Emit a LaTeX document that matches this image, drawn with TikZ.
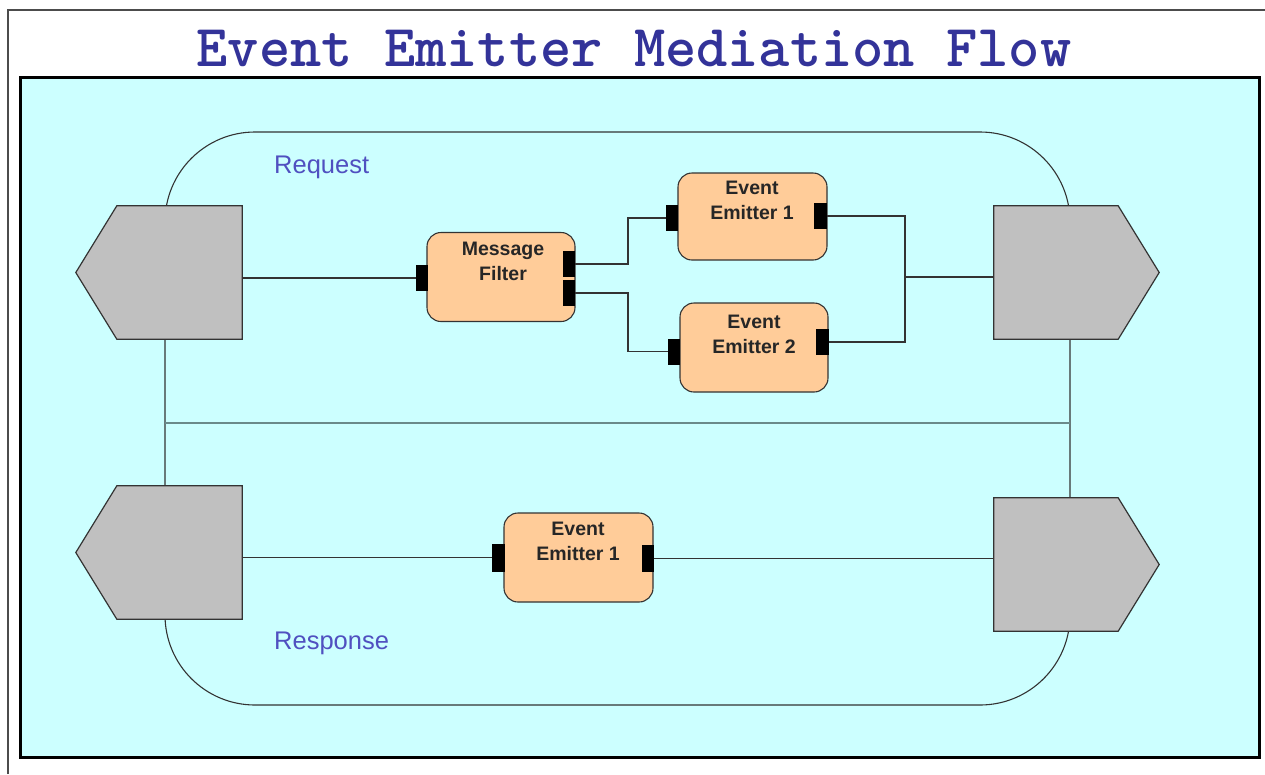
\documentclass[tikz,border=0pt]{standalone}
\usepackage{fontspec}
\setmainfont{Liberation Sans}
\newfontfamily\titlefont{lmmonolt10-bold.otf}
\usetikzlibrary{calc}
\definecolor{bgcyan}{HTML}{CCFFFF}
\definecolor{peach}{HTML}{FFCC99}
\definecolor{pgray}{HTML}{C0C0C0}
\definecolor{titleblue}{HTML}{333399}
\definecolor{lblblue}{HTML}{5050C0}
\definecolor{edge}{HTML}{333333}
\definecolor{divider}{HTML}{6A8A8A}
\tikzset{
  pent/.style={inner sep=0pt, minimum width=125pt, minimum height=133pt},
  pentshape/.style={fill=pgray, draw=edge, line width=1.2pt, line join=miter},
  proc/.style={draw=edge, fill=peach, rounded corners=14pt, line width=1.1pt, inner sep=0pt, minimum width=148pt, minimum height=89pt},
  port/.style={fill=black, draw=none, inner sep=0pt, minimum width=12pt, minimum height=26pt},
  boxtext/.style={align=center, font=\fontsize{19.5}{25}\selectfont\bfseries, text=black!85},
  flowlbl/.style={anchor=west, font=\fontsize{25.5}{28}\selectfont, text=lblblue, inner sep=0pt},
  wire/.style={draw=edge, line width=1.4pt},
}
\begin{document}
\begin{tikzpicture}[x=1pt, y=-1pt]
\useasboundingbox (0,0) rectangle (1265,774);
% outer frame
\draw[draw=black!70, line width=1.6pt] (8,774) -- (8,10) -- (1265,10);
% title
\node[font=\fontsize{59.5}{62}\selectfont\titlefont, text=titleblue, inner sep=0pt] (title) at (634,48) {Event Emitter Mediation Flow};
% main panel
\draw[line width=3pt, fill=bgcyan] (20,77) rectangle (1259,757);
% container
\draw[draw=edge, line width=1.1pt] (165,132) [rounded corners=90pt] -- (1070,132) -- (1070,705) -- (165,705) -- cycle;
\draw[divider, line width=1.2pt] (165,423) -- (1070,423);

% pentagon nodes (rectangular parts)
\node[pent] (reqIn)  at (179.5,272.5) {};
\node[pent] (resIn)  at (179.5,552.5) {};
\node[pent, minimum width=124pt] (reqOut) at (1056,272.5) {};
\node[pent, minimum width=124pt] (resOut) at (1056,564.5) {};
\draw[pentshape] (reqIn.north west) -- (reqIn.north east) -- (reqIn.south east) -- (reqIn.south west) -- ($(reqIn.west)+(-41,0)$) -- cycle;
\draw[pentshape] (resIn.north west) -- (resIn.north east) -- (resIn.south east) -- (resIn.south west) -- ($(resIn.west)+(-41,0)$) -- cycle;
\draw[pentshape] (reqOut.north east) -- (reqOut.north west) -- (reqOut.south west) -- (reqOut.south east) -- ($(reqOut.east)+(41,0)$) -- cycle;
\draw[pentshape] (resOut.north east) -- (resOut.north west) -- (resOut.south west) -- (resOut.south east) -- ($(resOut.east)+(41,0)$) -- cycle;

% processing boxes
\node[proc] (mf)  at (501,277) {};
\node[proc, minimum width=149pt, minimum height=87pt] (ee1) at (752.5,216.5) {};
\node[proc] (ee2) at (754,347.5) {};
\node[proc, minimum width=149pt] (ee3) at (578.5,557.5) {};
\node[boxtext] (mft)  at (503,261.5) {Message\\Filter};
\node[boxtext] (ee1t) at (752,200) {Event\\Emitter 1};
\node[boxtext] (ee2t) at (754,334.5) {Event\\Emitter 2};
\node[boxtext] (ee3t) at (578,541.5) {Event\\Emitter 1};

% ports
\node[port] (mfin)   at (422,278) {};
\node[port] (mfo1)   at (569,264) {};
\node[port] (mfo2)   at (569,293) {};
\node[port] (ee1in)  at (672,218) {};
\node[port, minimum width=13pt] (ee1out) at (820,216) {};
\node[port] (ee2in)  at (674,351.5) {};
\node[port, minimum width=13pt] (ee2out) at (822,342) {};
\node[port, minimum width=13pt, minimum height=28pt] (ee3in)  at (498.5,557.5) {};
\node[port, minimum height=27pt] (ee3out) at (647.5,558.5) {};

% labels
\node[flowlbl] (req) at (274,167) {Request};
\node[flowlbl] (res) at (274,643) {Response};

% wiring
\coordinate (split) at (628,0);
\coordinate (join) at (905,277);
\draw[wire] (mfin.west) -- (mfin.west -| reqIn.east);
\draw[wire] (mfo1.east) -- (mfo1.east -| split) -- (split |- ee1in) -- (ee1in.west);
\draw[wire] (mfo2.east) -- (mfo2.east -| split) -- (split |- ee2in) -- (ee2in.west);
\draw[wire] (ee1out.east) -- (ee1out.east -| join) -- (ee2out.east -| join) -- (ee2out.east);
\draw[wire] (join) -- (join -| reqOut.west);
\draw[wire] (ee3in.west) -- (ee3in.west -| resIn.east);
\draw[wire] (ee3out.east) -- (ee3out.east -| resOut.west);
\end{tikzpicture}
\end{document}
